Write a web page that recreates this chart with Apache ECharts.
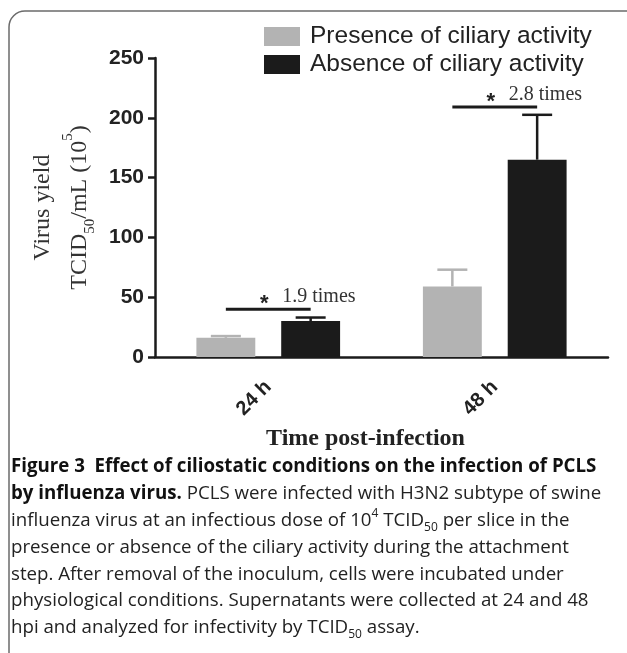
<!DOCTYPE html>
<html>
<head>
<meta charset="utf-8">
<script src="https://cdn.jsdelivr.net/npm/echarts@6/dist/echarts.min.js"></script>
<style>
html,body{margin:0;padding:0;background:#fff;}
#chart{width:627px;height:653px;}
</style>
</head>
<body>
<div id="chart"></div>
<script>
// ---- data ----
const categories = ['24 h', '48 h'];
const seriesNames = ['Presence of ciliary activity', 'Absence of ciliary activity'];
const presenceMean = [16, 59];
const presenceUpper = [17.5, 73];
const absenceMean = [30, 165];
const absenceUpper = [33, 202.5];
const sigLevel = [40, 209];
const sigLabel = ['1.9 times', '2.8 times'];
const yMin = 0, yMax = 250, yInterval = 50;

// ---- styles ----
const GRAY = '#b3b3b3';
const BLACK = '#1b1b1b';
const BAR_FRAC = 0.26;
const GAP_FRAC = 0.44;
const OFF_FRAC = BAR_FRAC * (1 + GAP_FRAC) / 2;

function errRender(sign, color) {
  return function (params, api) {
    const idx = api.value(0);
    const base = api.coord([idx, api.value(1)]);
    const top = api.coord([idx, api.value(2)]);
    const band = api.size([1, 0])[0];
    const x = base[0] + sign * OFF_FRAC * band;
    const cap = 15;
    return {
      type: 'group',
      children: [
        {type: 'line', shape: {x1: x, y1: base[1], x2: x, y2: top[1]}, style: {stroke: color, lineWidth: 2.5}},
        {type: 'line', shape: {x1: x - cap, y1: top[1], x2: x + cap, y2: top[1]}, style: {stroke: color, lineWidth: 2.5}}
      ]
    };
  };
}

function sigRender(params, api) {
  const idx = api.value(0);
  const p = api.coord([idx, api.value(1)]);
  const band = api.size([1, 0])[0];
  const x1 = p[0] - OFF_FRAC * band;
  const x2 = p[0] + OFF_FRAC * band;
  return {
    type: 'group',
    children: [
      {type: 'line', shape: {x1: x1, y1: p[1], x2: x2, y2: p[1]}, style: {stroke: BLACK, lineWidth: 3}},
      {type: 'text', style: {text: '*', x: p[0] - 4, y: p[1] + 6, align: 'center', verticalAlign: 'bottom',
        fontFamily: 'Liberation Sans', fontWeight: 'bold', fontSize: 22, fill: '#222'}},
      {type: 'text', style: {text: sigLabel[params.dataIndex], x: p[0] + 14, y: p[1] - 12, align: 'left', verticalAlign: 'middle',
        fontFamily: 'Liberation Serif', fontSize: 20, fill: '#333'}}
    ]
  };
}

const capFont = 'Open Sans';
const capSize = 18.7;
const capRich = {
  b: {fontFamily: capFont, fontSize: capSize, fontWeight: 'bold', fill: '#111', lineHeight: 26},
  r: {fontFamily: capFont, fontSize: capSize, fill: '#222', lineHeight: 26},
  sup: {fontFamily: capFont, fontSize: 12, fill: '#222', verticalAlign: 'top', lineHeight: 12},
  sub: {fontFamily: capFont, fontSize: 12, fill: '#222', verticalAlign: 'bottom', lineHeight: 12}
};
const captionLines = [
  '{b|Figure 3  Effect of ciliostatic conditions on the infection of PCLS}',
  '{b|by influenza virus.}{r| PCLS were infected with H3N2 subtype of swine}',
  '{r|influenza virus at an infectious dose of 10}{sup|4}{r| TCID}{sub|50}{r| per slice in the}',
  '{r|presence or absence of the ciliary activity during the attachment}',
  '{r|step. After removal of the inoculum, cells were incubated under}',
  '{r|physiological conditions. Supernatants were collected at 24 and 48}',
  '{r|hpi and analyzed for infectivity by TCID}{sub|50}{r| assay.}'
];
const capTop = 467, capStep = 26.8;

const chart = echarts.init(document.getElementById('chart'), null, {renderer: 'canvas'});
chart.setOption({
  animation: false,
  backgroundColor: '#fff',
  grid: {left: 155, right: 19, top: 58, bottom: 296, containLabel: false},
  legend: {
    data: seriesNames,
    orient: 'vertical',
    left: 259,
    top: 19,
    icon: 'rect',
    itemWidth: 36,
    itemHeight: 19,
    itemGap: 3,
    textStyle: {fontFamily: 'Liberation Sans', fontSize: 24.5, color: '#222', padding: [0, 0, 0, 5]},
    selectedMode: false
  },
  xAxis: {
    type: 'category',
    data: categories,
    name: 'Time post-infection',
    nameLocation: 'middle',
    nameGap: 70,
    nameTextStyle: {fontFamily: 'Liberation Serif', fontWeight: 'bold', fontSize: 24, color: '#222', padding: [0, 32, 0, 0]},
    axisLine: {lineStyle: {color: BLACK, width: 2.5}},
    axisTick: {alignWithLabel: true, length: 10, lineStyle: {color: BLACK, width: 2.5}},
    axisLabel: {rotate: 45, margin: 27, fontFamily: 'Liberation Sans', fontWeight: 'bold', fontSize: 20, color: '#222'}
  },
  yAxis: {
    type: 'value',
    min: yMin, max: yMax, interval: yInterval,
    name: '{t|Virus yield}\n{t|TCID}{sub|50}{t|/mL (10}{sup|5}{t|)}',
    nameLocation: 'middle',
    nameGap: 53,
    nameTextStyle: {
      rich: {
        t: {fontFamily: 'Liberation Serif', fontSize: 24, color: '#333', lineHeight: 37},
        sub: {fontFamily: 'Liberation Serif', fontSize: 15, color: '#333', verticalAlign: 'bottom', lineHeight: 20},
        sup: {fontFamily: 'Liberation Serif', fontSize: 15, color: '#333', verticalAlign: 'top', lineHeight: 20}
      }
    },
    axisLine: {show: true, lineStyle: {color: BLACK, width: 2.5}},
    axisTick: {show: true, length: 7, lineStyle: {color: BLACK, width: 2.5}},
    axisLabel: {margin: 11, fontFamily: 'Liberation Sans', fontWeight: 'bold', fontSize: 21, color: '#222'},
    splitLine: {show: false}
  },
  series: [
    {name: seriesNames[0], type: 'bar', data: presenceMean, barWidth: (BAR_FRAC * 100) + '%', barGap: (GAP_FRAC * 100) + '%',
      itemStyle: {color: GRAY}},
    {name: seriesNames[1], type: 'bar', data: absenceMean, barWidth: (BAR_FRAC * 100) + '%',
      itemStyle: {color: BLACK}},
    {type: 'custom', z: 5, renderItem: errRender(-1, GRAY),
      data: categories.map((c, i) => [i, presenceMean[i], presenceUpper[i]])},
    {type: 'custom', z: 5, renderItem: errRender(1, BLACK),
      data: categories.map((c, i) => [i, absenceMean[i], absenceUpper[i]])},
    {type: 'custom', z: 6, renderItem: sigRender,
      data: categories.map((c, i) => [i, sigLevel[i]])}
  ],
  graphic: [
    {type: 'rect', shape: {x: 9, y: 11, width: 660, height: 700, r: 16},
      style: {fill: 'none', stroke: '#6b6b6b', lineWidth: 1.5}, silent: true}
  ].concat(captionLines.map((t, i) => ({
    type: 'text', x: 11, y: capTop + i * capStep,
    style: {text: t, rich: capRich, verticalAlign: 'middle', align: 'left'}
  })))
});
</script>
</body>
</html>
